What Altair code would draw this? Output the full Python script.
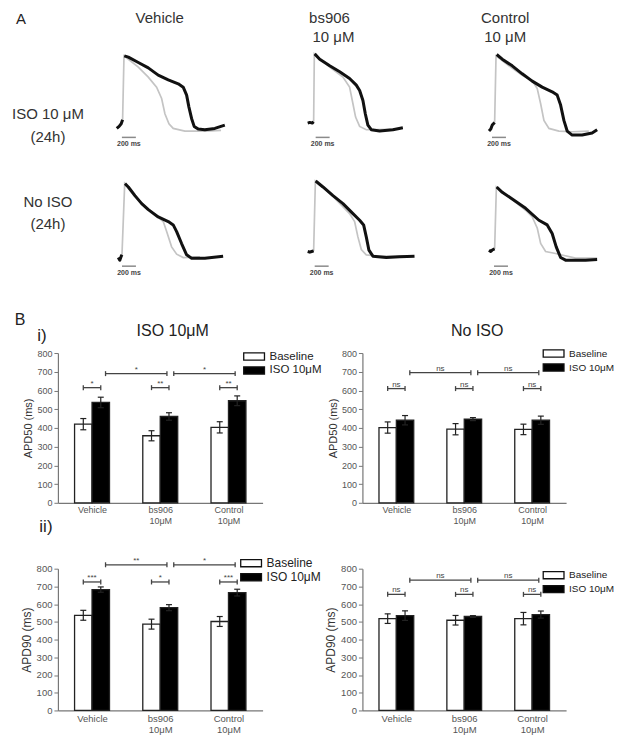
import json
import altair as alt
import pandas as pd

FONT = "Liberation Sans"

# ------------------------------------------------------------------
# Panel A: action-potential traces, (time ms, membrane potential mV)
# grey = baseline recording, black = after 24 h treatment
# ------------------------------------------------------------------
veh_iso_pre = [(-94, -85), (-60, -82), (-30, -78), (-10, -72)]
veh_iso_black = [(14, 24), (72, 22), (215, 14), (358, 6), (500, -5), (644, -12), (787, -18),
                 (858, -23), (907, -35), (940, -53), (978, -70), (1015, -82), (1073, -86),
                 (1168, -87), (1311, -85), (1454, -80)]
veh_iso_grey = [(-10, -72), (10, 24), (96, 17), (215, 7), (358, -8), (477, -23), (549, -40),
                (596, -63), (654, -78), (715, -85), (882, -89), (1168, -89), (1400, -88)]

bs_iso_pre = [(-90, -77), (-60, -76), (-25, -77), (-5, -75)]
bs_iso_black = [(10, 27), (82, 19), (225, 9), (368, 0), (510, -10), (606, -20), (654, -28),
                (701, -43), (735, -63), (772, -80), (821, -87), (940, -89), (1130, -87), (1273, -84)]
bs_iso_grey = [(-5, -75), (5, 27), (225, 7), (415, -8), (510, -23), (558, -48), (596, -68),
               (654, -82), (749, -87), (1225, -86)]

ctl_iso_pre = [(-96, -89), (-70, -86), (-49, -80), (-15, -76)]
ctl_iso_black = [(14, 26), (94, 19), (237, 9), (380, -3), (523, -14), (666, -23), (809, -30),
                 (881, -35), (930, -50), (977, -73), (1024, -89), (1096, -95), (1238, -95),
                 (1381, -92), (1453, -87)]
ctl_iso_grey = [(-15, -76), (5, 24), (190, 9), (380, -5), (523, -13), (595, -25), (644, -48),
                (691, -73), (763, -85), (906, -89), (1095, -90), (1334, -89)]

veh_no_pre = [(-72, -84), (-50, -88), (-30, -82), (-19, -80)]
veh_no_black = [(24, 27), (72, 22), (167, 9), (263, -3), (358, -12), (500, -23), (644, -30),
                (715, -35), (764, -45), (835, -63), (907, -80), (978, -85), (1168, -85), (1430, -82)]
veh_no_grey = [(-19, -80), (20, 27), (167, 7), (406, -15), (572, -30), (621, -45), (692, -68),
               (764, -79), (858, -84), (1097, -83)]

bs_no_pre = [(-90, -75), (-60, -76), (-33, -75), (-5, -74)]
bs_no_black = [(24, 31), (129, 22), (272, 9), (415, -3), (558, -18), (654, -28), (711, -35),
               (749, -53), (787, -73), (844, -82), (1035, -84), (1226, -83), (1440, -82)]
bs_no_grey = [(-5, -74), (20, 31), (272, 8), (510, -18), (582, -30), (629, -53), (678, -72),
              (749, -80), (940, -82), (1297, -82)]

ctl_no_pre = [(-96, -73), (-70, -75), (-40, -72), (-15, -71)]
ctl_no_black = [(14, 22), (94, 14), (237, 4), (429, -10), (619, -28), (738, -35), (809, -48),
                (867, -68), (930, -84), (1001, -88), (1287, -88), (1453, -87)]
ctl_no_grey = [(-15, -71), (10, 22), (237, 3), (429, -13), (524, -23), (596, -40), (644, -63),
               (715, -75), (858, -78), (1144, -85), (1453, -85)]

# 200 ms scale bars: start time (ms) per column, bar level and label level (mV) per row
scalebar_len = 200
scalebar_start_iso = [-20, 24, -53]
scalebar_start_no = [-19, 10, -24]
scalebar_v = [-98.5, -97]
scalebar_text_v = [-109, -107]

column_titles = [["Vehicle"], ["bs906", "10 μM"], ["Control", "10 μM"]]
row_titles = [["ISO 10 μM", "(24h)"], ["No ISO", "(24h)"]]

# ------------------------------------------------------------------
# Panel B: APD bar charts (mean, s.e.m.)
# ------------------------------------------------------------------
groups = [["Vehicle"], ["bs906", "10μM"], ["Control", "10μM"]]
series = ["Baseline", "ISO 10μM"]

apd50_iso_base = [420, 358, 403]
apd50_iso_base_err = [30, 27, 30]
apd50_iso_iso = [536, 461, 545]
apd50_iso_iso_err = [28, 20, 26]
apd50_iso_pair = ["*", "**", "**"]
apd50_iso_cross = ["*", "*"]

apd50_no_base = [402, 393, 392]
apd50_no_base_err = [30, 30, 28]
apd50_no_iso = [441, 447, 441]
apd50_no_iso_err = [25, 8, 22]
apd50_no_pair = ["ns", "ns", "ns"]
apd50_no_cross = ["ns", "ns"]

apd90_iso_base = [537, 487, 502]
apd90_iso_base_err = [28, 28, 28]
apd90_iso_iso = [682, 580, 665]
apd90_iso_iso_err = [15, 17, 19]
apd90_iso_pair = ["***", "*", "***"]
apd90_iso_cross = ["**", "*"]

apd90_no_base = [518, 509, 518]
apd90_no_base_err = [27, 27, 35]
apd90_no_iso = [535, 530, 541]
apd90_no_iso_err = [27, 5, 20]
apd90_no_pair = ["ns", "ns", "ns"]
apd90_no_cross = ["ns", "ns"]

# bracket heights (ms) : [pairwise, between groups]
apd50_iso_bracket_y = [615, 690]
apd50_no_bracket_y = [610, 695]
apd90_iso_bracket_y = [725, 822]
apd90_no_bracket_y = [655, 735]

# ------------------------------------------------------------------
ONE = alt.Data(values=[{"k": 0}])
T_MIN = -150
MS_PER_PX = 14.3


def text_layer(text, x, y, size, color="#222", weight="normal", baseline="middle", align="center"):
    return alt.Chart(ONE).mark_text(text=text, fontSize=size, fontWeight=weight, color=color,
                                    baseline=baseline, align=align, font=FONT).encode(
        x=alt.value(x), y=alt.value(y))


def text_cell(w, h, items):
    layers = [text_layer(*it) for it in items]
    if not layers:
        layers = [text_layer("", 0, 0, 10)]
    return alt.layer(*layers).properties(width=w, height=h)


def trace_panel(pre, black, grey, sb_start, sb_v, sb_tv, w, h, ydom, headers):
    rows = []
    for seg, pts in (("pre", pre), ("main", black)):
        for i, (t, v) in enumerate(pts):
            rows.append({"t": t, "v": v, "seg": seg, "o": i})
    dfb = pd.DataFrame(rows)
    dfg = pd.DataFrame([{"t": t, "v": v, "o": i} for i, (t, v) in enumerate(grey)])
    xs = alt.Scale(domain=[T_MIN, T_MIN + w * MS_PER_PX], nice=False, zero=False)
    ys = alt.Scale(domain=ydom, nice=False, zero=False)
    X = lambda f: alt.X(f, scale=xs, axis=None)
    Y = lambda f: alt.Y(f, scale=ys, axis=None)
    g = alt.Chart(dfg).mark_line(color="#c4c4c4", strokeWidth=1.7).encode(
        x=X("t:Q"), y=Y("v:Q"), order="o:Q")
    b = alt.Chart(dfb).mark_line(color="#111111", strokeWidth=3, strokeJoin="round").encode(
        x=X("t:Q"), y=Y("v:Q"), detail="seg:N", order="o:Q")
    sb = pd.DataFrame({"t": [sb_start], "t2": [sb_start + scalebar_len], "tm": [sb_start + scalebar_len / 2],
                       "v": [sb_v], "tv": [sb_tv], "label": [f"{scalebar_len} ms"]})
    bar = alt.Chart(sb).mark_rule(color="#8a8a8a", strokeWidth=1.5).encode(
        x=X("t:Q"), x2="t2:Q", y=Y("v:Q"))
    txt = alt.Chart(sb).mark_text(fontSize=7, fontWeight="bold", color="#444", font=FONT).encode(
        x=X("tm:Q"), y=Y("tv:Q"), text="label:N")
    return alt.layer(g, b, bar, txt, *headers).properties(width=w, height=h)


BW = 0.256  # half group width in category units
LEG_SHIFT = 4  # the wide legend box reaches left of the nominal symbol slot


def bar_panel(base, base_err, iso, iso_err, pair_lab, cross_lab, br_y, ytitle, w, h,
              leg_x, leg_y, leg_font, lab_font, tick_font, title_font):
    rows = []
    for i in range(len(groups)):
        c = i + 0.5
        rows.append({"series": series[0], "x1": c - BW, "x2": c, "xc": c - BW / 2,
                     "mean": base[i], "lo": base[i] - base_err[i], "hi": base[i] + base_err[i]})
        rows.append({"series": series[1], "x1": c, "x2": c + BW, "xc": c + BW / 2,
                     "mean": iso[i], "lo": iso[i] - iso_err[i], "hi": iso[i] + iso_err[i]})
    df = pd.DataFrame(rows)
    caps = pd.concat([df[["xc"]].assign(yv=df["lo"]), df[["xc"]].assign(yv=df["hi"])])

    br = []
    for i, lab in enumerate(pair_lab):
        c = i + 0.5
        br.append({"x1": c - BW / 2, "x2": c + BW / 2, "y": br_y[0], "label": lab})
    for i, lab in enumerate(cross_lab):
        a = i + 0.5 + BW / 2
        b = i + 1.5 + BW / 2
        br.append({"x1": a + 0.07, "x2": b - 0.03, "y": br_y[1], "label": lab})
    dbr = pd.DataFrame(br)
    dbr["xm"] = (dbr["x1"] + dbr["x2"]) / 2
    ends = pd.concat([dbr[["x1", "y"]].rename(columns={"x1": "xe"}),
                      dbr[["x2", "y"]].rename(columns={"x2": "xe"})])

    xs = alt.Scale(domain=[0, len(groups)], nice=False, zero=False)
    ys = alt.Scale(domain=[0, 800], nice=False)
    expr = ("datum.value < 1 ? " + json.dumps(groups[0], ensure_ascii=False) +
            " : datum.value < 2 ? " + json.dumps(groups[1], ensure_ascii=False) +
            " : " + json.dumps(groups[2], ensure_ascii=False))
    xaxis = alt.Axis(values=[0.5, 1.5, 2.5], labelExpr=expr, ticks=False, grid=False,
                     domainColor="#777", domainWidth=1.2, labelColor="#555", labelFontSize=lab_font,
                     labelLineHeight=lab_font + 1.5, labelPadding=3, title=None, labelFont=FONT)
    yaxis = alt.Axis(values=list(range(0, 801, 100)), tickSize=4, tickColor="#777", domainColor="#777",
                     domainWidth=1.2, labelColor="#555", labelFontSize=tick_font, labelPadding=2,
                     title=ytitle, titleFontSize=title_font, titleFontWeight="normal", titleColor="#333",
                     titlePadding=3, grid=False, labelFont=FONT, titleFont=FONT)
    legend = alt.Legend(orient="none", legendX=leg_x + LEG_SHIFT, legendY=leg_y, title=None,
                        symbolType="M-1.6,-0.55H1.6V0.55H-1.6Z", symbolSize=169, symbolStrokeColor="#111",
                        symbolStrokeWidth=1.3, symbolOpacity=1, labelFontSize=leg_font, labelFont=FONT,
                        labelColor="#222", labelOffset=8, rowPadding=0, padding=0)
    X = lambda f: alt.X(f, scale=xs, axis=xaxis)
    Y = lambda f: alt.Y(f, scale=ys, axis=yaxis)
    bars = alt.Chart(df).mark_bar(stroke="#222", strokeWidth=1.3).encode(
        x=X("x1:Q"), x2="x2:Q", y=Y("mean:Q"), y2=alt.datum(0),
        fill=alt.Fill("series:N", scale=alt.Scale(domain=series, range=["#ffffff", "#000000"]),
                      legend=legend))
    err = alt.Chart(df).mark_rule(color="#222", strokeWidth=1.2).encode(
        x=X("xc:Q"), y=Y("lo:Q"), y2="hi:Q")
    cap = alt.Chart(caps).mark_rule(color="#222", strokeWidth=1.2, xOffset=-3, x2Offset=3).encode(
        x=X("xc:Q"), x2="xc:Q", y=Y("yv:Q"))
    hline = alt.Chart(dbr).mark_rule(color="#444", strokeWidth=1.3).encode(
        x=X("x1:Q"), x2="x2:Q", y=Y("y:Q"))
    vend = alt.Chart(ends).mark_rule(color="#444", strokeWidth=1.3, yOffset=-2.5, y2Offset=2.5).encode(
        x=X("xe:Q"), y=Y("y:Q"), y2="y:Q")
    lab = alt.Chart(dbr).mark_text(fontSize=8, color="#444", baseline="alphabetic", dy=-2, font=FONT).encode(
        x=X("xm:Q"), y=Y("y:Q"), text="label:N")
    return alt.layer(bars, err, cap, hline, vend, lab).properties(width=w, height=h)


# ---------------- layout ----------------
A_W = [105, 191, 182, 129]
A1_H, A2_H = 150, 140
A1_DOM, A2_DOM = [-130, 95], [-145, 65]
B_W = [50, 205, 100, 204]
BT_H, B1_H, B2T_H, B2_H = 50, 150, 66, 142

hdr = [
    [text_layer(column_titles[0][0], 47, 2, 15, "#333", baseline="top")],
    [text_layer(column_titles[1][0], 26, 2, 15, "#333", baseline="top"),
     text_layer(column_titles[1][1], 30, 21, 15, "#333", baseline="top")],
    [text_layer(column_titles[2][0], 20, 2, 15, "#333", baseline="top"),
     text_layer(column_titles[2][1], 20, 21, 15, "#333", baseline="top")],
]

iso_traces = [(veh_iso_pre, veh_iso_black, veh_iso_grey), (bs_iso_pre, bs_iso_black, bs_iso_grey),
              (ctl_iso_pre, ctl_iso_black, ctl_iso_grey)]
no_traces = [(veh_no_pre, veh_no_black, veh_no_grey), (bs_no_pre, bs_no_black, bs_no_grey),
             (ctl_no_pre, ctl_no_black, ctl_no_grey)]

cells_a = []
cells_a.append(text_cell(A_W[0], A1_H, [("A", 13, 10, 15, "#222"),
                                        (row_titles[0][0], 40, 106, 15, "#333"),
                                        (row_titles[0][1], 40, 129, 15, "#333")]))
for j in range(3):
    p, b, g = iso_traces[j]
    cells_a.append(trace_panel(p, b, g, scalebar_start_iso[j], scalebar_v[0], scalebar_text_v[0],
                               A_W[j + 1], A1_H, A1_DOM, hdr[j]))
cells_a.append(text_cell(A_W[0], A2_H, [(row_titles[1][0], 40, 44, 15, "#333"),
                                        (row_titles[1][1], 40, 66, 15, "#333")]))
for j in range(3):
    p, b, g = no_traces[j]
    cells_a.append(trace_panel(p, b, g, scalebar_start_no[j], scalebar_v[1], scalebar_text_v[1],
                               A_W[j + 1], A2_H, A2_DOM, []))

cells_b = []
cells_b += [text_cell(B_W[0], BT_H, [("B", 12, 17, 16, "#222"), ("i)", 34, 33, 17, "#222")]),
            text_cell(B_W[1], BT_H, [("ISO 10μM", 115, 28, 16, "#222")]),
            text_cell(B_W[2], BT_H, []),
            text_cell(B_W[3], BT_H, [("No ISO", 115, 28, 16, "#222")])]
cells_b += [text_cell(B_W[0], B1_H, []),
            bar_panel(apd50_iso_base, apd50_iso_base_err, apd50_iso_iso, apd50_iso_iso_err,
                      apd50_iso_pair, apd50_iso_cross, apd50_iso_bracket_y, "APD50 (ms)",
                      B_W[1], B1_H, 185, -4, 11.5, 9, 9, 11),
            text_cell(B_W[2], B1_H, []),
            bar_panel(apd50_no_base, apd50_no_base_err, apd50_no_iso, apd50_no_iso_err,
                      apd50_no_pair, apd50_no_cross, apd50_no_bracket_y, "APD50 (ms)",
                      B_W[3], B1_H, 180, -7, 10, 9, 9, 11)]
cells_b += [text_cell(B_W[0], B2T_H, [("ii)", 38, 24, 17, "#222")]),
            text_cell(B_W[1], B2T_H, []), text_cell(B_W[2], B2T_H, []), text_cell(B_W[3], B2T_H, [])]
cells_b += [text_cell(B_W[0], B2_H, []),
            bar_panel(apd90_iso_base, apd90_iso_base_err, apd90_iso_iso, apd90_iso_iso_err,
                      apd90_iso_pair, apd90_iso_cross, apd90_iso_bracket_y, "APD90 (ms)",
                      B_W[1], B2_H, 182, -13, 12, 9.5, 9.5, 12),
            text_cell(B_W[2], B2_H, []),
            bar_panel(apd90_no_base, apd90_no_base_err, apd90_no_iso, apd90_no_iso_err,
                      apd90_no_pair, apd90_no_cross, apd90_no_bracket_y, "APD90 (ms)",
                      B_W[3], B2_H, 180, -1, 10, 9.5, 9.5, 12)]

panel_a = alt.concat(*cells_a, columns=4, bounds="flush", spacing=0)
panel_b = alt.concat(*cells_b, columns=4, bounds="flush", spacing=0).resolve_scale(fill="independent")

chart = alt.vconcat(panel_a, panel_b, spacing=0).resolve_scale(fill="independent").properties(
    padding=0, background="white"
).configure(font=FONT, view=alt.ViewConfig(stroke=None))

chart.save("out.html", embed_options={"renderer": "svg", "actions": False})
